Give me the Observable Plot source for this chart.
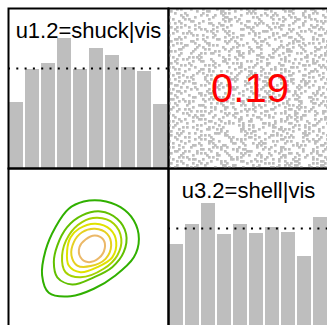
<!DOCTYPE html>
<html>
<head>
<meta charset="utf-8">
<script src="https://cdn.jsdelivr.net/npm/d3@7"></script>
<script src="https://cdn.jsdelivr.net/npm/@observablehq/plot@0.6"></script>
<style>
  html, body { margin: 0; padding: 0; background: #fff; }
  #chart { position: relative; width: 327px; height: 325px; overflow: hidden; }
  #chart svg { position: absolute; background: transparent; overflow: visible; }
</style>
</head>
<body>
<div id="chart"></div>
<script>
// Variable names shown on the diagonal
const labelU1 = "u1.2=shuck|vis";
const labelU3 = "u3.2=shell|vis";
// Empirical correlation shown in the upper panel
const corrText = "0.19";

// Histogram bin edges on [0, 1] and densities per bin
const binEdges = [0, 0.1, 0.2, 0.3, 0.4, 0.5, 0.6, 0.7, 0.8, 0.9, 1];
const densU1 = [0.66, 0.99, 1.05, 1.30, 0.99, 1.20, 1.13, 1.01, 0.97, 0.64];
const densU3 = [0.84, 1.04, 1.25, 0.94, 1.04, 0.95, 1.01, 0.96, 0.72, 1.11];

// Scatter of (u1.2, u3.2): occupancy of an 80 x 80 grid, one hex row per grid row (top row first)
const scatterRows = [
  "0a1040820910c0420184", "4002183040a0102c0841", "1080402a0150840210a0", "0240911008024a081204",
  "8104020c402810450a02", "20a0081310040920c140", "0418400a21820041082a", "92010c4008150a021004",
  "00840231020840c81120", "4a21008401a0250040c8", "1004a2100c40108a0214", "0820148a0021c0042901",
  "2150020480940a108042", "800a41020c1008604018", "04801208a004210c2080", "1a0240c10820840110a4",
  "4018200a40130082c005", "0a0418042108400a1290", "20c10a80140220904801", "81024010a08c0142204a",
  "0604280900420a181030", "5008014230a0041c0841", "0210a60014820840a102", "84010042180c2108044a",
  "202a8010440318200c10", "0941040a200840a12084", "1008c2180142002804a1", "48200104a808610240c0",
  "02902a40081040c01a14", "a004010218a20406800a", "1420c800420114a00841", "00810a2408c2002841a0",
  "8c0240011050a0820204", "2108148020a2040c1810", "0450200a4108c1200284", "90082401a00420861009",
  "04a01082420180142a40", "410c0820019040a20c02", "1800a1440208c2104880", "02440091a0410820a214",
  "a0120840c10a02304011", "0c8012020448a0190820", "42018c0a1020480120a4", "1020a100840c21028048",
  "080c04520081a4204302", "61004a208102140980a0", "04a820140c00a2106105", "902004a18420085020c8",
  "0841c0100a24810a4012", "2008250c80120420a881", "44a0010842a0180c4100", "0812a4200910c0210a46",
  "8140080a600204a18024", "2024c1048120a0091840", "100a0210480c2814a003", "0481a04018420091204a",
  "a2080c2210c004a08410", "0840210a8401a40c0221", "9002804014a0280148c0", "21480a1004210c820a04",
  "040218a00c8401a84210", "c10080240a3008420890", "0a2401c8014082101a04", "4400a80c02101a840c21",
  "10a1040280c4202a1008", "0804a2012a1080c00491", "82200c4108020a141260", "20810a00c42580208042",
  "040c8118020a0402a80c", "a11002a4100890c04021", "0400c820a60120a81082", "18a2040821c0048010a4",
  "4102a0840a04210c8120", "020810c2048a10604418", "85400a01280240a10882", "202c4081a010890240a1",
  "0a0104280c4a0121800c", "410890240100a81440a2", "08422018c0240129820c", "9014010a84081a04212a"
];

// Density contours of the normal scores, outermost level first (points in z units)
const ring1 = [[-0.18,1.76],[0.45,1.80],[1.20,1.55],[1.70,1.05],[1.89,0.36],[1.70,-0.33],[1.01,-1.01],
  [0.20,-1.51],[-0.67,-1.79],[-1.49,-1.66],[-1.74,-1.01],[-1.61,-0.07],[-1.24,0.80],[-0.74,1.49]];
const ring2 = [[-0.24,1.24],[0.45,1.39],[1.08,1.11],[1.41,0.55],[1.32,-0.14],[0.89,-0.70],[0.20,-1.08],
  [-0.61,-1.35],[-1.17,-1.08],[-1.30,-0.51],[-1.17,0.11],[-0.80,0.80]];
const ring3 = [[-0.24,0.99],[0.33,1.15],[0.95,0.93],[1.23,0.36],[1.08,-0.26],[0.57,-0.76],[-0.30,-1.08],
  [-0.86,-0.89],[-0.99,-0.26],[-0.74,0.49]];
const ring4 = [[-0.36,0.74],[0.26,0.93],[0.82,0.71],[1.04,0.24],[0.89,-0.33],[0.33,-0.70],[-0.30,-0.89],
  [-0.74,-0.64],[-0.80,-0.07],[-0.67,0.42]];
const ring5 = [[-0.24,0.61],[0.24,0.74],[0.70,0.55],[0.85,0.11],[0.64,-0.39],[0.08,-0.66],[-0.42,-0.64],
  [-0.64,-0.26],[-0.55,0.24]];
const ring6 = [[-0.11,0.34],[0.24,0.49],[0.55,0.34],[0.61,0.01],[0.39,-0.36],[-0.03,-0.51],[-0.30,-0.33],
  [-0.34,0.05]];
const contourColors = ["#30b000", "#62c000", "#a6d200", "#e0e200", "#e6d020", "#ebb868"];

// ---- tables built from the arrays above ----
const histTable = dens => dens.map((d, i) => ({x1: binEdges[i], x2: binEdges[i + 1], d}));

const gridN = scatterRows.length;
const scatterCells = [];
scatterRows.forEach((row, j) => {
  [...row].forEach((ch, k) => {
    const bits = parseInt(ch, 16);
    for (let b = 0; b < 4; b++) {
      if (bits & (8 >> b)) {
        const i = k * 4 + b;
        scatterCells.push({u1: i / gridN, u2: (i + 1) / gridN, v1: 1 - (j + 1) / gridN, v2: 1 - j / gridN});
      }
    }
  });
});

const rings = [ring1, ring2, ring3, ring4, ring5, ring6];
const contourPts = rings.flatMap((r, k) => r.map(([x, y]) => ({x, y, level: k + 1})));

// ---- layout: four panels of 160 x 160 px, sharing their borders ----
const chart = document.getElementById("chart");
const FONT = "'Liberation Sans', Arial, Helvetica, sans-serif";
const grey = "#bebebe";

function panel(left, top, opts) {
  const svg = Plot.plot({
    width: 162,
    height: 162,
    margin: 1,
    style: {background: "transparent", fontFamily: FONT},
    ...opts,
    marks: [...opts.marks, Plot.frame({stroke: "black", strokeWidth: 2})]
  });
  svg.style.left = (left - 1) + "px";
  svg.style.top = (top - 1) + "px";
  chart.append(svg);
  return svg;
}

function histPanel(left, top, dens, label) {
  return panel(left, top, {
    x: {domain: [0, 1], axis: null},
    y: {domain: [0, 1.6], axis: null},
    marks: [
      Plot.rectY(histTable(dens), {x1: "x1", x2: "x2", y: "d", fill: grey, insetLeft: 1, insetRight: 1}),
      Plot.ruleY([1], {stroke: "black", strokeWidth: 2, strokeDasharray: "2,6.3"}),
      Plot.text([label], {frameAnchor: "top", lineAnchor: "middle", dy: 22.5, fontSize: 22, fill: "black"})
    ]
  });
}

// diagonal: histograms
histPanel(8, 8, densU1, labelU1);
histPanel(168, 168, densU3, labelU3);

// upper: scatter with correlation
panel(168, 8, {
  x: {domain: [0, 1], axis: null},
  y: {domain: [0, 1], axis: null},
  marks: [
    Plot.rect(scatterCells, {x1: "u1", x2: "u2", y1: "v1", y2: "v2", fill: grey,
      insetRight: -0.7, insetBottom: -0.7}),
    Plot.text([corrText], {frameAnchor: "middle", dx: 1.5, dy: 1, fontSize: 40, fill: "red"})
  ]
});

// lower: contours
panel(8, 168, {
  x: {domain: [-3, 3], axis: null},
  y: {domain: [-3, 3], axis: null},
  color: {type: "ordinal", domain: [1, 2, 3, 4, 5, 6], range: contourColors},
  marks: [
    Plot.line(contourPts, {x: "x", y: "y", z: "level", stroke: "level", strokeWidth: 2, curve: "catmull-rom-closed"})
  ]
});
</script>
</body>
</html>
